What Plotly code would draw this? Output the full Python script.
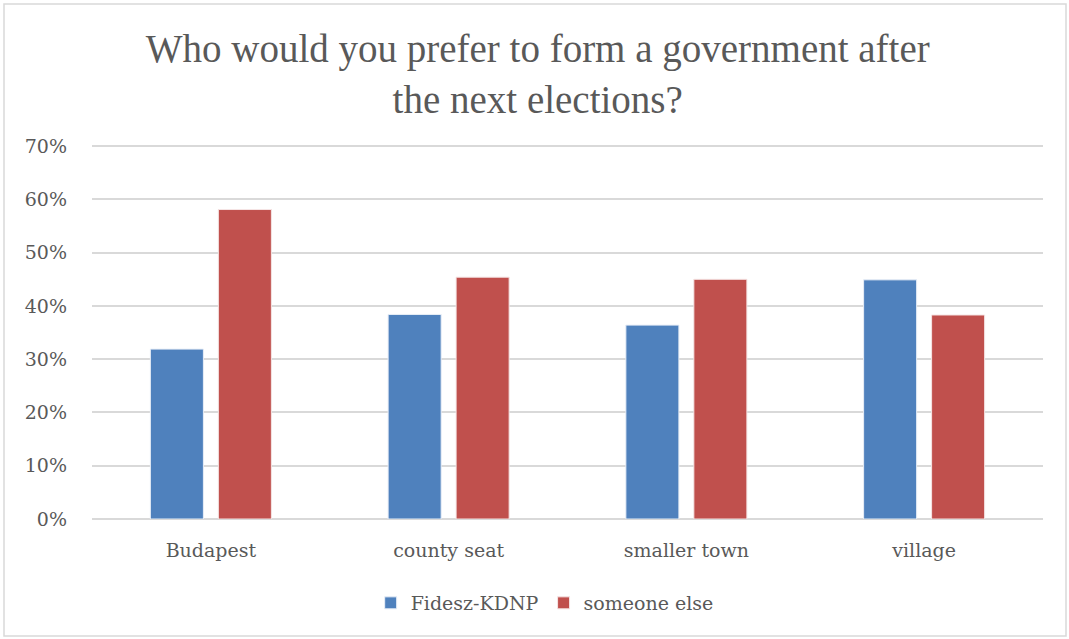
import plotly.graph_objects as go

categories = ["Budapest", "county seat", "smaller town", "village"]
fidesz = [0.319, 0.384, 0.364, 0.449]
someone_else = [0.581, 0.454, 0.450, 0.383]
tick_vals = [0, 0.1, 0.2, 0.3, 0.4, 0.5, 0.6, 0.7]
tick_text = ["0%", "10%", "20%", "30%", "40%", "50%", "60%", "70%"]

FONT = "DejaVu Serif"
TFONT = "Liberation Serif"
GREY = "#595959"

fig = go.Figure()
fig.add_trace(go.Bar(name="Fidesz-KDNP", x=categories, y=fidesz,
                     marker=dict(color="#4F81BD", line=dict(color="#E8EEF7", width=1))))
fig.add_trace(go.Bar(name="someone else", x=categories, y=someone_else,
                     marker=dict(color="#C0504D", line=dict(color="#F5E5E5", width=1))))

fig.update_layout(
    width=1069, height=639,
    margin=dict(l=92, r=26, t=144, b=120),
    paper_bgcolor="white", plot_bgcolor="white",
    font=dict(family=FONT, color=GREY, size=19),
    title=dict(text="Who would you prefer to form a government after<br>the next elections?",
               x=0.503, xanchor="center", y=1 - 62 / 639, yanchor="middle",
               font=dict(family=TFONT, size=39, color=GREY)),
    barmode="group", bargap=0.428, bargroupgap=0.22,
    xaxis=dict(showgrid=False, showline=False, ticks="", ticklabelstandoff=18,
               tickfont=dict(size=19, color=GREY)),
    yaxis=dict(range=[0, 0.704], tickvals=tick_vals, ticktext=tick_text,
               showgrid=True, gridcolor="#D9D9D9", gridwidth=1.5,
               zeroline=True, zerolinecolor="#D9D9D9", zerolinewidth=1.5,
               showline=False, ticks="", ticklabelstandoff=24,
               tickfont=dict(size=19, color=GREY)),
    legend=dict(orientation="h", x=0.476, xanchor="center", y=-0.224, yanchor="middle",
                font=dict(size=19, color=GREY), itemwidth=30, traceorder="normal"),
    shapes=[dict(type="rect", xref="paper", yref="paper",
                 x0=-88 / 951, x1=1 + 23 / 951, y0=-117 / 375, y1=1 + 140 / 375,
                 line=dict(color="#D9D9D9", width=1.5), fillcolor="rgba(0,0,0,0)", layer="below")],
)

fig.write_html("out.html", config={"displayModeBar": False},
               post_script="document.body.style.margin='0px';")
